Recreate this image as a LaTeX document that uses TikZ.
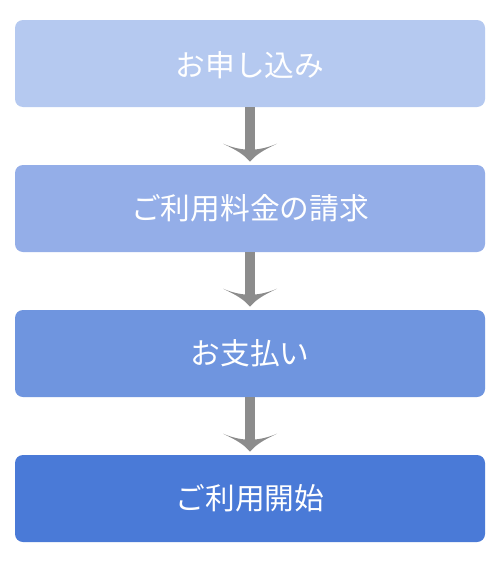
\documentclass[tikz,border=0pt]{standalone}
\usepackage{fontspec}
\newfontfamily\cjk{Noto Sans CJK JP}
\definecolor{cA}{HTML}{B5C9F0}
\definecolor{cB}{HTML}{94AEE8}
\definecolor{cC}{HTML}{6F95DF}
\definecolor{cD}{HTML}{4A7AD7}
\definecolor{arrowgray}{HTML}{8C8C8C}
\tikzset{
  stepbox/.style={fill=#1, draw=none, rounded corners=6pt, minimum width=352.5pt, minimum height=65.25pt, inner sep=0pt, text=white, font=\cjk\fontsize{22.3pt}{26pt}\selectfont},
}
\newcommand{\flowarrow}[2]{%
  \path (#1.south) coordinate (ta) (#2.north) coordinate (tb);
  \fill[arrowgray] ($(ta)+(-4.9,0)$) -- ($(ta)+(4.9,0)$) -- ($(tb)+(4.9,-13)$) -- ($(tb)+(-4.9,-13)$) -- cycle;
  \fill[arrowgray] ($(tb)+(-27,-21)$) .. controls ($(tb)+(-12,-14)$) and ($(tb)+(-6,-10)$) .. ($(tb)+(0,-3)$)
     .. controls ($(tb)+(6,-10)$) and ($(tb)+(12,-14)$) .. ($(tb)+(27,-21)$)
     .. controls ($(tb)+(15,-16)$) and ($(tb)+(6,-15)$) .. ($(tb)+(0,-15)$)
     .. controls ($(tb)+(-6,-15)$) and ($(tb)+(-15,-16)$) .. cycle;
}
\usetikzlibrary{calc}
\begin{document}
\begin{tikzpicture}[x=0.75pt,y=-0.75pt]
\useasboundingbox[fill=white] (0,0) rectangle (500,564);
\node[stepbox=cA, text depth=0pt] (s1) at (250,63.5) {\raisebox{-1.2pt}{お申し込み}};
\node[stepbox=cB] (s2) at (250,208.5) {\raisebox{-1.2pt}{ご利用料金の請求}};
\node[stepbox=cC] (s3) at (250,353.5) {\raisebox{-1.2pt}{お支払い}};
\node[stepbox=cD] (s4) at (250,498.5) {\raisebox{-1.2pt}{ご利用開始}};
\flowarrow{s1}{s2}
\flowarrow{s2}{s3}
\flowarrow{s3}{s4}
\end{tikzpicture}
\end{document}
